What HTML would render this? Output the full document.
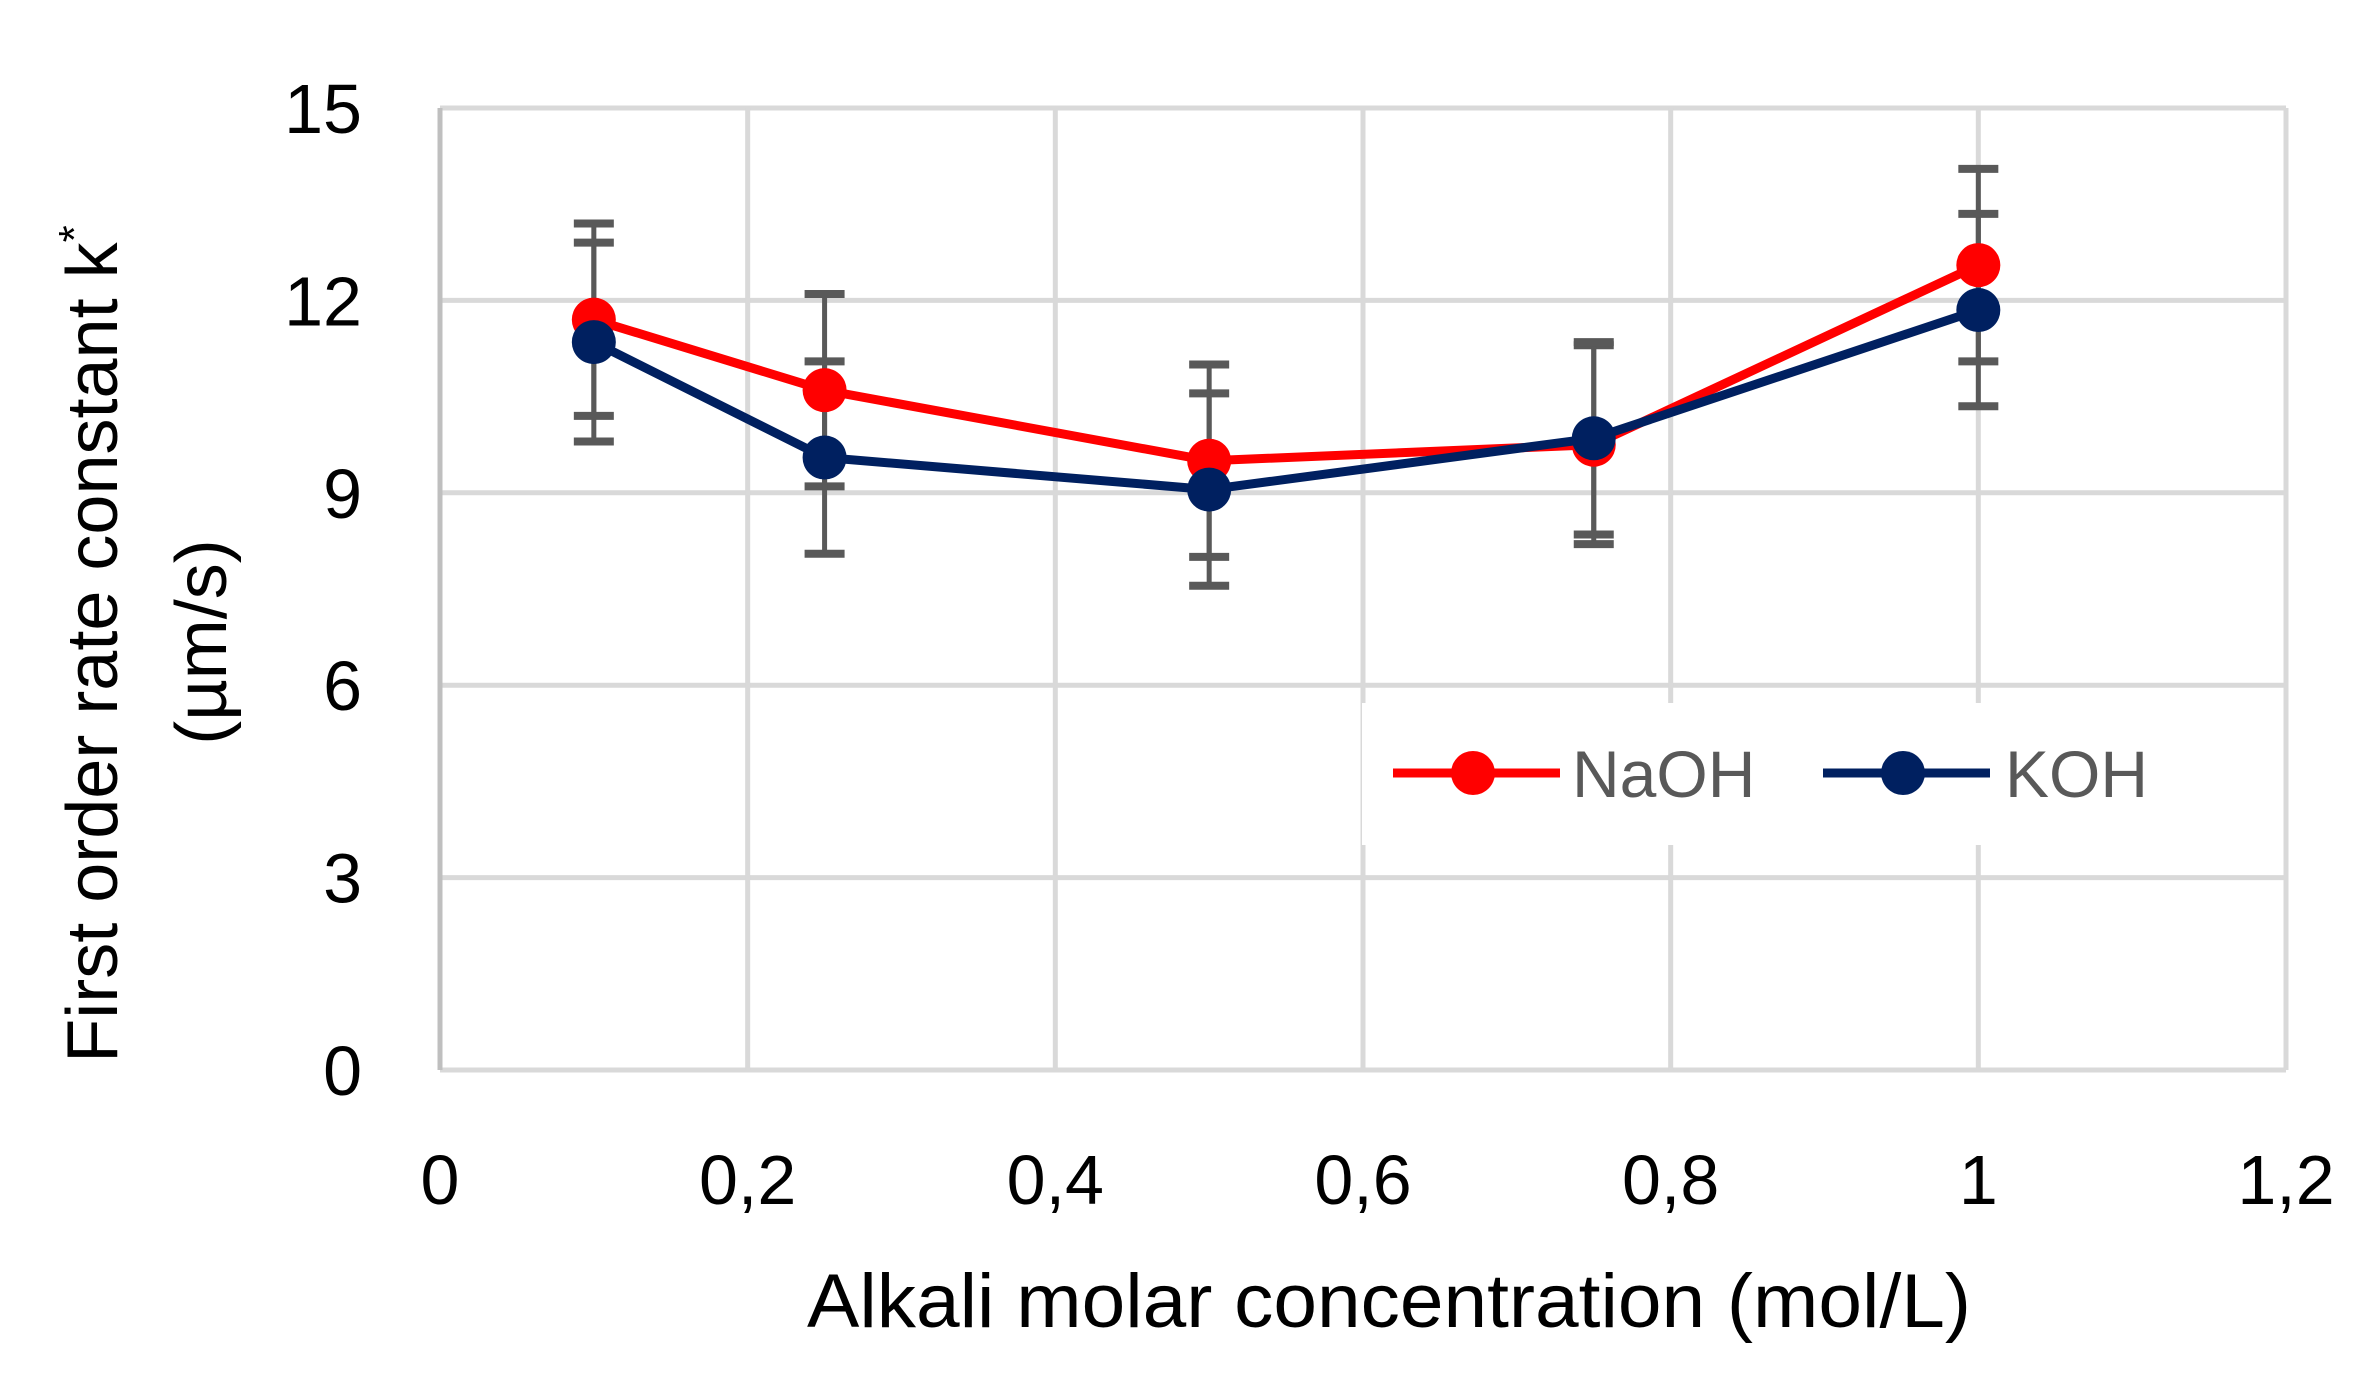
<!DOCTYPE html>
<html><head><meta charset="utf-8"><style>
html,body{margin:0;padding:0;background:#fff;}
svg{display:block;font-family:"Liberation Sans Narrow","Liberation Sans",sans-serif;}
</style></head><body>
<svg id="chart" width="2374" height="1391" viewBox="0 0 2374 1391" xmlns="http://www.w3.org/2000/svg">
<rect width="2374" height="1391" fill="#fff"/>
<g id="grid"></g>
<g id="ticks"></g>
<g id="errs"></g>
<g id="series"></g>
<g>
<rect x="1362" y="703" width="800" height="142" fill="#fff"/>
<g>
<line x1="1393" y1="773" x2="1560" y2="773" stroke="#ff0000" stroke-width="9"/>
<ellipse cx="1473" cy="773" rx="22" ry="22" fill="#ff0000"/>
<text x="1572" y="797" font-size="66" fill="#595959">NaOH</text></g>
<g>
<line x1="1823" y1="773" x2="1990" y2="773" stroke="#002060" stroke-width="9"/>
<ellipse cx="1903" cy="773" rx="22" ry="22" fill="#002060"/>
<text x="2005" y="797" font-size="66" fill="#595959">KOH</text></g>
</g>
<text transform="translate(117,644) rotate(-90)" text-anchor="middle" font-size="72" font-family="Liberation Sans, sans-serif" fill="#000">First order rate constant k<tspan dy="-28" font-size="44">*</tspan></text>
<text transform="translate(226,642) rotate(-90)" text-anchor="middle" font-size="72" font-family="Liberation Sans, sans-serif" fill="#000">(µm/s)</text>
<text x="807" y="1327" font-size="76" textLength="1164" lengthAdjust="spacingAndGlyphs" fill="#000">Alkali molar concentration (mol/L)</text>
</svg>
<script>
const xCats = [0.1, 0.25, 0.5, 0.75, 1];
const naoh = [11.7, 10.6, 9.5, 9.75, 12.55];
const koh = [11.35, 9.55, 9.05, 9.85, 11.85];
const naohErr = [1.5, 1.5, 1.5, 1.55, 1.5];
const kohErr = [1.55, 1.5, 1.5, 1.5, 1.5];
const yTicks = [0, 3, 6, 9, 12, 15];
const xTicks = [0, 0.2, 0.4, 0.6, 0.8, 1, 1.2];
const xTickLabels = ["0", "0,2", "0,4", "0,6", "0,8", "1", "1,2"];

const NS = "http://www.w3.org/2000/svg";
const X0 = 440, X1 = 2286, Y0 = 1070, Y1 = 108;
function sx(v){ return X0 + (v - 0) / 1.2 * (X1 - X0); }
function sy(v){ return Y0 - (v - 0) / 15 * (Y0 - Y1); }
function mk(tag, attrs, parent){
  const e = document.createElementNS(NS, tag);
  for (const k in attrs) e.setAttribute(k, attrs[k]);
  parent.appendChild(e); return e;
}
const grid = document.getElementById('grid');
const ticks = document.getElementById('ticks');
yTicks.forEach(t => {
  const l = mk('line', {x1: X0, x2: X1, y1: sy(t), y2: sy(t), stroke: '#d9d9d9', 'stroke-width': 5}, grid);
  
  
  const tx = mk('text', {x: 362, y: sy(t) + 25, 'text-anchor': 'end', 'font-size': 70, fill: '#000'}, ticks);
  tx.textContent = t;
  
  
});
xTicks.forEach((t, i) => {
  const l = mk('line', {x1: sx(t), x2: sx(t), y1: Y1, y2: Y0, stroke: i === 0 ? '#bfbfbf' : '#d9d9d9', 'stroke-width': 5}, grid);
  
  
  const tx = mk('text', {x: sx(t), y: 1204, 'text-anchor': 'middle', 'font-size': 70, fill: '#000'}, ticks);
  tx.textContent = xTickLabels[i];
  
  
});
const errs = document.getElementById('errs');
function drawErr(vals, e){
  xCats.forEach((c, i) => {
    const x = sx(c), yt = sy(vals[i] + e[i]), yb = sy(vals[i] - e[i]);
    const g = mk('g', {stroke: '#595959', 'stroke-width': 5}, errs);
    
    
    mk('line', {x1: x, x2: x, y1: yt, y2: yb}, g);
    mk('line', {x1: x - 20, x2: x + 20, y1: yt, y2: yt, 'stroke-width': 8}, g);
    mk('line', {x1: x - 20, x2: x + 20, y1: yb, y2: yb, 'stroke-width': 8}, g);
  });
}
drawErr(naoh, naohErr);
drawErr(koh, kohErr);
const series = document.getElementById('series');
function drawSeries(vals, color, name){
  const g = mk('g', {}, series);
  
  
  const pts = xCats.map((c, i) => sx(c) + ',' + sy(vals[i])).join(' ');
  mk('polyline', {points: pts, fill: 'none', stroke: color, 'stroke-width': 9, 'stroke-linejoin': 'round'}, g);
  xCats.forEach((c, i) => {
    const p = mk('ellipse', {cx: sx(c), cy: sy(vals[i]), rx: 22, ry: 22, fill: color}, g);
    
    
  });
}
drawSeries(naoh, '#ff0000', 'naoh-series');
drawSeries(koh, '#002060', 'koh-series');
</script>
</body></html>
